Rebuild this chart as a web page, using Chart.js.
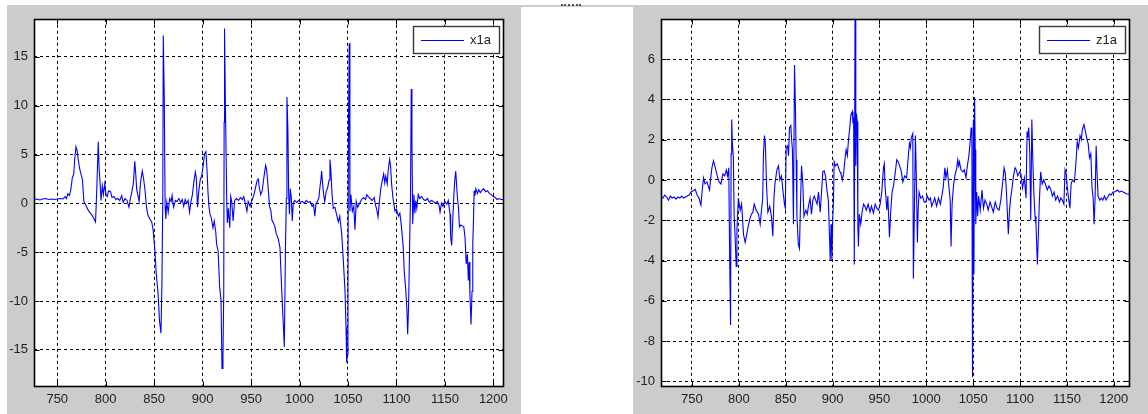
<!DOCTYPE html>
<html>
<head>
<meta charset="utf-8">
<script src="https://cdn.jsdelivr.net/npm/chart.js@4.4.1/dist/chart.umd.min.js"></script>
<style>
html, body { margin: 0; padding: 0; background: #fff; width: 1148px; height: 414px; overflow: hidden; position: relative; }
.panel { position: absolute; background: #ccc; top: 5px; height: 409px; }
#p1 { left: 7px; width: 514px; }
#p2 { left: 633px; width: 515px; }
#tira { position: absolute; left: 7px; top: 5px; width: 1141px; height: 2px; background: #ccc; }
#marca { position: absolute; left: 561px; top: 4px; width: 20px; height: 2px; border-top: 2px dotted #555; box-sizing: border-box; }
canvas { display: block; }
</style>
</head>
<body>
<div id="tira"></div>
<div id="marca"></div>
<div class="panel" id="p1"><canvas id="x1a" width="514" height="409"></canvas></div>
<div class="panel" id="p2"><canvas id="z1a" width="515" height="409"></canvas></div>
<script>
// datos
const xTicks = [750, 800, 850, 900, 950, 1000, 1050, 1100, 1150, 1200];
const x1aTicks = [-15, -10, -5, 0, 5, 10, 15];
const z1aTicks = [-10, -8, -6, -4, -2, 0, 2, 4, 6];

const x1aX = [
  726, 729, 732, 735, 738, 741, 744, 747, 750, 753,
  756, 758, 759.5, 761, 762.5, 764, 765.5, 767, 768, 769.3,
  770.5, 771.5, 773, 774.5, 776, 777.5, 780, 782.5, 785, 787,
  789.5, 790.8, 792.3, 793.2, 794.2, 795.2, 796.5, 797.6, 799, 800.3,
  801.5, 803, 805, 806.5, 808.5, 810.5, 812.5, 814.5, 816.5, 818,
  820, 822, 824, 825.5, 827, 828.5, 830, 831, 832, 833.5,
  834.5, 836, 837.7, 839, 840.5, 842, 843.5, 845.5, 847.5, 849,
  850.8, 852, 854, 855.5, 857, 858, 858.9, 859.4, 860.4, 861.3,
  862, 863, 864.5, 866, 867.5, 868.5, 870, 872, 873.6, 875.5,
  877.5, 879, 880.5, 882, 883.5, 885, 886.5, 888, 889.5, 891,
  892.5, 893.5, 894.7, 896, 897.5, 899, 900.5, 902, 903.4, 904.5,
  905.5, 906.5, 907.6, 909, 910.7, 912, 913.5, 914.5, 916, 917.6,
  919, 920, 921, 921.8, 922.2, 922.6, 923.5, 924.9, 925.5, 926.5,
  928, 929, 930, 931.5, 933, 935, 937, 939, 941, 942.5,
  944, 945.7, 947, 949, 950.5, 952, 953.5, 955, 956.4, 957.5,
  958.5, 960, 961.5, 963, 964, 965, 966, 967, 968, 969,
  970.5, 971.5, 973, 974.6, 976, 978, 979.8, 981.5, 983.2, 984.3,
  985.5, 986.4, 987, 988, 988.8, 989.6, 990.5, 991.5, 992.5, 993.5,
  995, 997, 999, 1001, 1003, 1005, 1007, 1009, 1011, 1013,
  1014.5, 1015.8, 1017, 1018.5, 1020, 1021, 1022, 1022.8, 1023.8, 1025,
  1026, 1027.5, 1029, 1030.5, 1031.4, 1032.3, 1033.5, 1034.8, 1036.5, 1038.4,
  1040, 1041.5, 1043.5, 1045, 1046.9, 1048, 1048.6, 1049.3, 1050, 1050.5,
  1051.3, 1052, 1053, 1054.5, 1056, 1057.2, 1058.5, 1060, 1062, 1064,
  1066, 1068, 1069.5, 1071, 1073, 1075, 1077, 1078.5, 1079.6, 1081,
  1082.5, 1084, 1085.5, 1086.8, 1088, 1089, 1090.5, 1091.5, 1093, 1094,
  1095, 1096.5, 1098.5, 1100, 1102, 1103.5, 1105, 1107, 1108, 1109.6,
  1110.8, 1111.6, 1112.5, 1113.5, 1114.5, 1115.3, 1116, 1116.8, 1118, 1119,
  1120, 1121, 1122.5, 1124, 1126, 1128, 1130, 1132, 1134, 1136,
  1138, 1140, 1142, 1144, 1145, 1146.5, 1148, 1150, 1152, 1153.5,
  1155.3, 1156, 1157, 1158, 1159.3, 1160.2, 1161.2, 1162, 1163, 1164,
  1165, 1166.5, 1168, 1169.5, 1170.8, 1172, 1173.2, 1174.2, 1175, 1175.8,
  1177, 1178, 1178.8, 1179.5, 1180.2, 1181, 1182, 1183.5, 1185, 1186.5,
  1188, 1190, 1192, 1194, 1196, 1198, 1200, 1202, 1204, 1206,
  1208, 1211
];
const x1aY = [
  0.4, 0.45, 0.35, 0.45, 0.5, 0.4, 0.45, 0.4, 0.45, 0.5,
  0.45, 0.7, 0.5, 1.0, 0.8, 1.4, 2.6, 3.0, 4.5, 5.8,
  5.4, 4.6, 3.6, 3.0, 2.4, 0.2, -0.3, -0.8, -1.1, -1.4,
  -1.9, 1.5, 6.3, 3.6, 2.1, 0.3, 1.8, 0.9, 2.0, 0.9,
  0.7, 1.3, 1.2, 0.6, 0.7, 0.4, 0.5, 0.3, 0.8, 0.1,
  0.5, 0.3, -0.4, 0.5, 1.2, 2.0, 4.3, 3.0, 1.4, 0.7,
  0.2, 2.2, 3.3, 2.6, 1.4, -0.3, -1.2, -1.6, -1.9, -2.8,
  -4.9, -7.0, -9.2, -12.0, -13.3, -8.2, 0.5, 17.2, 11.0, -0.3,
  -1.6, 0.1, -0.9, 0.5, 0.2, 0.8, -0.4, 0.3, 0.2, 0.5,
  0.1, 0.4, -0.3, 0.4, 0.0, 0.3, -0.9, 0.2, 0.9, 2.2,
  3.2, 2.6, -0.4, 1.2, 2.4, 2.8, 3.8, 5.1, 5.3, 3.5,
  1.2, -0.3, -1.1, -1.5, -2.5, -1.8, -2.9, -4.2, -4.9, -8.6,
  -9.9, -16.9, -15.7, -9.0, 8.3, 17.9, 10.2, 0.3, -2.0, -0.5,
  -2.5, 0.7, 0.2, -1.8, 0.3, 0.5, 0.3, 0.6, 0.4, 0.7,
  0.0, -0.8, 0.2, -0.3, 0.2, 0.6, 1.1, 1.8, 2.4, 2.5,
  1.6, 0.9, 1.3, 2.5, 3.2, 3.9, 3.5, 2.4, 1.1, -0.3,
  -0.8, -1.7, -2.0, -2.4, -3.1, -3.6, -4.5, -8.6, -12.3, -14.7,
  -4.5, 0.5, 10.9, 7.6, 0.9, -1.1, 1.5, 0.6, -1.8, 0.0,
  0.3, 0.1, 0.3, 0.1, 0.2, 0.0, 0.3, 0.1, 0.2, -0.3,
  -0.1, -1.3, 0.0, 0.2, 0.6, 1.6, 2.4, 3.3, 2.0, 0.8,
  0.2, 1.2, 1.6, 2.4, 4.5, 3.5, 1.0, -0.5, -0.4, -1.2,
  -1.9, -1.3, -3.1, -5.5, -8.9, -12.7, -16.3, -15.5, -8.9, 8.1,
  16.4, -0.8, 0.9, -0.8, -0.3, -2.7, 0.2, -0.4, 0.0, 0.4,
  0.6, 0.4, 0.9, 0.7, 0.5, 0.3, 0.6, -0.2, -0.6, -1.4,
  0.3, 1.6, 2.4, 3.0, 2.1, 2.8, 2.0, 3.4, 4.5, 3.8,
  2.0, 0.5, -0.8, -0.6, -1.3, -1.0, -2.2, -4.5, -6.9, -8.8,
  -10.9, -13.4, -10.6, -5.0, 0.5, 11.7, 6.5, -2.1, 0.9, -1.0,
  0.3, -0.5, 0.9, 0.5, 0.7, 0.4, 0.3, 0.5, 0.1, 0.3,
  0.2, 0.0, 0.2, -0.2, -0.9, 0.0, -0.3, 0.2, -0.1, 0.3,
  -1.1, -3.5, -4.3, -2.0, 0.9, 2.4, 3.3, 2.0, 0.5, -0.4,
  -2.4, -2.2, -2.3, -2.4, -3.5, -6.2, -5.2, -7.9, -6.0, -9.2,
  -12.4, -9.0, -4.0, -1.8, 1.3, 0.8, 1.5, 1.0, 1.4, 1.1,
  1.3, 1.5, 1.2, 1.3, 1.0, 0.9, 0.7, 0.6, 0.4, 0.5,
  0.4, 0.4
];

const z1aX = [
  717, 719, 721, 723, 725, 727, 729, 731, 733, 735,
  737, 739, 741, 743, 745, 747, 749, 751, 753.5, 755.5,
  757.5, 759.6, 761, 762.4, 764, 766, 768.8, 770, 771.3, 773,
  775, 777, 779, 781, 783, 785, 786.7, 788, 789.3, 790.2,
  791.2, 791.8, 792.4, 793.2, 794.2, 795, 796.2, 797.2, 798, 799.5,
  801.5, 803, 805, 806.8, 808.5, 810, 812, 813.5, 815, 816.4,
  818.5, 821, 822.8, 824, 825.5, 826.3, 827.4, 828.3, 829.6, 831,
  833, 834.8, 836.3, 837.5, 838.5, 840.6, 842.3, 843.8, 845.5, 847,
  848.7, 849.6, 850.5, 852, 853, 854.1, 855.5, 856.2, 857.2, 858.3,
  859.4, 860.4, 861.2, 862, 863.5, 864.7, 866, 866.9, 868.3, 869.5,
  871.5, 873, 874.3, 876, 877.5, 879, 880.5, 882, 883.5, 885,
  886.8, 888, 889.6, 891, 892.5, 894, 895.5, 896.8, 897.5, 898.4,
  899.3, 900.2, 901, 901.7, 903, 905, 906.5, 908, 909, 910.5,
  912, 913.4, 914.5, 915.8, 917, 918.4, 919.5, 921, 921.8, 922.5,
  923.2, 924, 924.8, 925.5, 926.3, 927, 927.6, 928.5, 930, 931.5,
  933, 934.5, 936, 938, 940, 941.5, 943.6, 945.5, 947.2, 949,
  950.8, 952.5, 954.3, 955.2, 956, 957.9, 959, 960.7, 962, 963.5,
  965, 966.7, 968.5, 970, 971.5, 973, 975, 977, 979, 981,
  982, 983, 984, 985.6, 986.2, 987.2, 988.4, 989.3, 990.5, 991.3,
  992.3, 994, 996, 997.8, 999.5, 1001, 1003, 1004.5, 1005.7, 1007.5,
  1009, 1011, 1013, 1015, 1016.5, 1018, 1019.8, 1021, 1022.5, 1024,
  1025.5, 1026.4, 1027.5, 1029, 1030.5, 1032.5, 1033.5, 1034.5, 1035.4, 1037,
  1039, 1040.5, 1042.4, 1043.5, 1045.4, 1046.8, 1047.9, 1048.6, 1049.3, 1050.2,
  1050.8, 1051.5, 1052.2, 1052.8, 1053.8, 1054.8, 1055.8, 1057.5, 1059.4, 1061,
  1062.6, 1064.5, 1066, 1068, 1069.5, 1071.5, 1073.5, 1075.5, 1077.6, 1079.5,
  1081.5, 1083, 1084.3, 1085.5, 1087.5, 1088.8, 1090, 1091.5, 1093, 1094.7,
  1096, 1097.6, 1099.5, 1101, 1102.6, 1104.6, 1106.4, 1107.5, 1108.3, 1109.3,
  1110.4, 1111.4, 1112.6, 1113.6, 1114.8, 1116, 1117, 1118.5, 1119.5, 1120.5,
  1122, 1123.6, 1125.3, 1127, 1129, 1130.8, 1132.7, 1134.5, 1136.3, 1138,
  1140, 1142, 1143.5, 1145, 1146.8, 1148, 1149.2, 1150.5, 1152, 1153.2,
  1154.5, 1156, 1158, 1160, 1161, 1162.3, 1164, 1165.5, 1166.4, 1168.2,
  1169.8, 1171.5, 1172.7, 1174.1, 1175.5, 1176.8, 1178, 1179, 1180, 1181.2,
  1182.2, 1183.2, 1185, 1186.7, 1188.3, 1190, 1191.8, 1193.5, 1195.4, 1197.2,
  1199, 1201, 1202.5, 1204, 1206, 1208, 1210, 1212, 1214, 1216,
  1217.3
];
const z1aY = [
  -0.85, -0.9, -0.75, -0.85, -1.0, -0.8, -0.9, -0.85, -0.95, -0.85,
  -0.9, -0.8, -0.9, -0.85, -0.8, -0.75, -0.6, -0.55, -0.47, -0.75,
  -0.9, -1.25, -0.5, 0.1, -0.2, -0.1, -0.5, 0.1, 0.6, 0.95,
  0.6, 0.2, -0.1, -0.2, 0.3, 0.2, 0.5, 0.2, 0.6, -3.7,
  -7.2, 1.3, 3.0, 1.8, 1.1, -1.7, -3.0, -4.3, -2.5, -0.9,
  -1.5, -1.2, -2.7, -3.1, -2.7, -2.3, -1.9, -1.7, -1.6, -1.2,
  -1.5, -1.7, -2.2, -1.6, -0.9, 1.3, 2.2, 1.8, -0.3, -1.6,
  -1.3, -1.8, -2.8, -0.9, -0.2, 0.5, 0.7, 0.0, 0.2, -0.5,
  -1.2, -1.4, 1.6, 1.7, 1.2, 2.6, 2.7, 2.1, 1.5, -2.2,
  5.7, 3.6, 1.0, -1.8, -3.2, -3.4, -0.8, 0.7, -0.2, -1.8,
  -1.5, -1.7, -1.3, -0.9, -1.7, -1.0, -0.8, -1.0, -1.2, -0.6,
  -1.6, -0.8, 0.4, 0.45, 0.2, -0.5, -1.0, -2.9, -4.0, -2.2,
  -4.0, -2.0, -1.0, 0.9, 0.7, 0.8, 0.6, 0.4, 0.3, 0.0,
  0.4, 1.1, 1.5, 1.2, 2.0, 2.6, 3.2, 3.4, 2.8, 3.1,
  -4.2, 8.5, 0.7, 3.3, 2.9, -2.3, -3.3, -1.7, -2.2, -1.6,
  -1.2, -1.3, -1.5, -1.2, -1.6, -1.3, -1.65, -1.2, -1.4, -1.5,
  -1.2, -0.6, 0.6, 0.8, -0.3, -1.5, -0.8, -2.85, -1.6, -0.6,
  -0.3, 0.3, 1.0, 0.9, 0.7, 0.5, -0.1, 0.2, 0.1, 1.3,
  1.8, 1.6, 2.1, 2.3, -4.9, -1.9, 2.2, 0.3, -3.1, -1.5,
  -0.6, -0.9, -0.8, -1.1, -1.1, -0.8, -1.0, -0.9, -1.3, -1.1,
  -0.9, -1.3, -0.9, -1.2, -0.8, -0.4, 0.6, 0.1, 0.5, -0.3,
  -1.0, -3.3, -1.2, -0.3, 0.2, 0.6, 1.0, 0.7, 0.9, 0.5,
  0.4, 0.5, 0.1, 0.6, 1.2, 1.9, 2.6, 2.3, -9.8, 3.0,
  -4.7, 4.1, 1.5, -2.2, -0.6, -1.8, -0.8, -1.5, -0.5, -1.4,
  -1.0, -1.2, -1.5, -1.1, -1.3, -1.6, -1.1, -1.4, -1.5, -1.0,
  -0.1, 0.6, 0.3, -0.6, -2.7, -1.5, -0.9, -0.4, 0.2, 0.6,
  0.5, 0.2, 0.4, 0.3, -0.4, 0.1, -0.9, 2.4, 2.1, 2.6,
  1.3, -2.0, 3.0, 1.0, -0.7, -1.8, -2.2, -4.2, -2.8, -1.2,
  0.4, -0.2, 0.0, -0.2, -0.5, -0.3, -0.45, -0.8, -0.6, -1.0,
  -0.8, -1.1, -0.9, -1.0, -1.2, 0.5, 0.3, -0.4, -1.0, -1.4,
  -0.2, 0.0, -0.1, 1.1, 1.9, 1.6, 2.2, 2.0, 2.5, 2.75,
  2.4, 2.0, 1.8, 1.1, 1.3, -0.4, -0.9, -2.2, -1.0, 1.7,
  0.3, -0.8, -1.0, -0.9, -1.0, -0.8, -1.0, -0.85, -0.7, -0.75,
  -0.6, -0.6, -0.55, -0.5, -0.6, -0.55, -0.6, -0.65, -0.7, -0.7,
  -0.8
];

const fuente = { family: '"Liberation Sans", Arial, sans-serif', size: 13 };

// caja, marcas hacia dentro y leyenda al estilo matlab
const marco = {
  id: 'marco',
  beforeDraw(chart) {
    const { ctx, chartArea: a } = chart;
    ctx.save();
    ctx.fillStyle = '#fff';
    ctx.fillRect(a.left, a.top, a.width, a.height);
    ctx.restore();
  },
  afterDatasetsDraw(chart) {
    const { ctx, chartArea: a, scales } = chart;
    const L = Math.round(a.left) + 0.5, R = Math.round(a.right) - 0.5;
    const T = Math.round(a.top) + 0.5, B = Math.round(a.bottom) - 0.5;
    ctx.save();
    ctx.setLineDash([]);
    ctx.strokeStyle = '#000';
    ctx.lineWidth = 1;
    ctx.beginPath();
    scales.x.ticks.forEach(t => {
      const x = Math.round(scales.x.getPixelForValue(t.value)) + 0.5;
      ctx.moveTo(x, B); ctx.lineTo(x, B - 5);
      ctx.moveTo(x, T); ctx.lineTo(x, T + 5);
    });
    scales.y.ticks.forEach(t => {
      const y = Math.round(scales.y.getPixelForValue(t.value)) + 0.5;
      ctx.moveTo(L, y); ctx.lineTo(L + 5, y);
      ctx.moveTo(R, y); ctx.lineTo(R - 5, y);
    });
    ctx.stroke();
    ctx.lineWidth = 1.6;
    ctx.strokeRect(L, T, R - L, B - T);

    // leyenda
    const w = 86, h = 27;
    const x0 = Math.round(a.right) - 5 - w, y0 = Math.round(a.top) + 7;
    ctx.fillStyle = '#fff';
    ctx.fillRect(x0, y0, w, h);
    ctx.lineWidth = 1.4;
    ctx.strokeStyle = '#3a3a3a';
    ctx.strokeRect(x0 + 0.5, y0 + 0.5, w, h);
    ctx.lineWidth = 1;
    ctx.strokeStyle = 'rgb(0, 0, 255)';
    ctx.beginPath();
    ctx.moveTo(x0 + 8, y0 + 14.5);
    ctx.lineTo(x0 + 51, y0 + 14.5);
    ctx.stroke();
    ctx.fillStyle = '#222';
    ctx.font = '13px "Liberation Sans", Arial, sans-serif';
    ctx.textBaseline = 'middle';
    ctx.fillText(chart.data.datasets[0].label, x0 + 57, y0 + 14.5);
    ctx.restore();
  }
};

function grafica(id, xs, ys, yMin, yMax, yTicks, xMin, xMax, ejeY, arriba, derecha) {
  return new Chart(document.getElementById(id), {
    type: 'line',
    data: {
      datasets: [{
        label: id,
        data: xs.map((x, i) => ({ x: x, y: ys[i] })),
        borderColor: 'rgb(0, 0, 255)',
        borderWidth: 1.1,
        pointRadius: 0,
        tension: 0,
        fill: false
      }]
    },
    options: {
      responsive: false,
      animation: false,
      layout: { padding: { top: arriba, right: derecha, left: 0, bottom: 0 } },
      plugins: { legend: { display: false }, tooltip: { enabled: false } },
      scales: {
        x: {
          type: 'linear',
          min: xMin,
          max: xMax,
          afterBuildTicks: s => { s.ticks = xTicks.map(v => ({ value: v })); },
          afterFit: s => { s.height = 27; },
          grid: { color: '#000', lineWidth: 1, drawTicks: false },
          border: { display: false, dash: [3, 3] },
          ticks: { font: fuente, color: '#222', padding: 5, maxRotation: 0, autoSkip: false, callback: v => String(v) }
        },
        y: {
          type: 'linear',
          min: yMin,
          max: yMax,
          afterBuildTicks: s => { s.ticks = yTicks.map(v => ({ value: v })); },
          afterFit: s => { s.width = ejeY; },
          grid: { color: '#000', lineWidth: 1, drawTicks: false },
          border: { display: false, dash: [3, 3] },
          ticks: { font: fuente, color: '#222', padding: 6, autoSkip: false, callback: v => String(v) }
        }
      }
    },
    plugins: [marco]
  });
}

const x1a = grafica('x1a', x1aX, x1aY, -18.8, 18.9, x1aTicks, 726, 1211, 27, 11, 17);
const z1a = grafica('z1a', z1aX, z1aY, -10.28, 8, z1aTicks, 717, 1217.3, 28, 12, 18);
</script>
</body>
</html>
